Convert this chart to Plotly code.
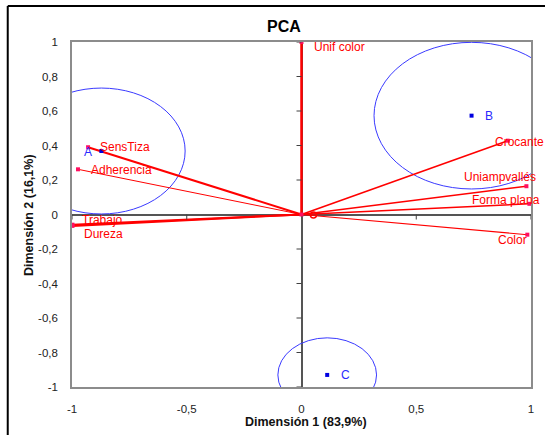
import plotly.graph_objects as go

# ---------------- data ----------------
var_names = ["Unif color", "SensTiza", "Adherencia", "Trabajo", "Dureza",
             "Crocante", "Uniampvallés", "Forma plana", "Color"]
var_x = [0.0, -0.930, -0.974, -0.998, -0.998, 0.899, 0.980, 0.993, 0.984]
var_y = [1.0, 0.390, 0.262, -0.059, -0.066, 0.428, 0.164, 0.062, -0.117]

obs_names = ["A", "B", "C"]
obs_x = [-0.872, 0.741, 0.112]
obs_y = [0.368, 0.573, -0.930]
obs_radius = [0.365, 0.425, 0.215]

x_ticks = [-1, -0.5, 0, 0.5, 1]
x_ticktext = ["-1", "-0,5", "0", "0,5", "1"]
y_ticks = [-1, -0.8, -0.6, -0.4, -0.2, 0, 0.2, 0.4, 0.6, 0.8, 1]
y_ticktext = ["-1", "-0,8", "-0,6", "-0,4", "-0,2", "0", "0,2", "0,4", "0,6", "0,8", "1"]

# ---------------- styles ----------------
RED = "#ff0000"
RED_MK = "#ff1060"
BLUE = "#0000e0"
BLUE_TXT = "#2a2aff"
FONT = "Liberation Sans, Arial, sans-serif"

var_line_widths = [2.5, 2, 1, 2, 2, 1.6, 1.6, 1.6, 1.1]
# label offsets in pixels (dx right, dy down)
var_label_offsets = [(10, 5), (10, 0), (11, 1), (8, -5), (10, 8),
                     (-15, 1), (-64, -9), (-59, -4), (-31, 5)]
obs_label_offsets = [(-13, 1, "center"), (11, 0, "left"), (12, 0, "left")]

fig = go.Figure()

# variable vectors
for name, x, y, w in zip(var_names, var_x, var_y, var_line_widths):
    fig.add_trace(go.Scatter(x=[0, x], y=[0, y], mode="lines",
                             line=dict(color=RED, width=w),
                             hoverinfo="skip", showlegend=False))
fig.add_trace(go.Scatter(x=var_x, y=var_y, mode="markers",
                         marker=dict(symbol="square", size=4, color=RED_MK),
                         text=var_names, hoverinfo="text", showlegend=False))
fig.add_trace(go.Scatter(x=[0], y=[0], mode="markers",
                         marker=dict(symbol="square", size=4, color=RED_MK),
                         hoverinfo="skip", showlegend=False))
fig.add_trace(go.Scatter(x=[0.052], y=[-0.003], mode="markers",
                         marker=dict(symbol="circle-open", size=6,
                                     color=RED, line=dict(width=1.5)),
                         hoverinfo="skip", showlegend=False))

# observations
fig.add_trace(go.Scatter(x=obs_x, y=obs_y, mode="markers",
                         marker=dict(symbol="square", size=4, color=BLUE),
                         text=obs_names, hoverinfo="text", showlegend=False))

shapes = []
# confidence circles
for cx, cy, r in zip(obs_x, obs_y, obs_radius):
    shapes.append(dict(type="circle", xref="x", yref="y",
                       x0=cx - r, x1=cx + r, y0=cy - r, y1=cy + r,
                       line=dict(color="#3a3aff", width=1), layer="between"))

# tick marks on the zero axes
for t in x_ticks:
    if t == 0:
        continue
    shapes.append(dict(type="line", xref="x", yref="y", ysizemode="pixel",
                       yanchor=0, x0=t, x1=t, y0=0, y1=-5,
                       line=dict(color="#404040", width=1)))
for t in y_ticks:
    if t == 0:
        continue
    shapes.append(dict(type="line", xref="x", yref="y", xsizemode="pixel",
                       xanchor=0, x0=-5, x1=0, y0=t, y1=t,
                       line=dict(color="#404040", width=1)))

# chart-area border (Excel style)
shapes.append(dict(type="line", xref="paper", yref="paper",
                   x0=-0.140, x1=-0.140, y0=-0.3, y1=1.104,
                   line=dict(color="black", width=2)))
shapes.append(dict(type="line", xref="paper", yref="paper",
                   x0=-0.140, x1=1.2, y0=1.104, y1=1.104,
                   line=dict(color="black", width=2)))

annotations = []
for name, x, y, (dx, dy) in zip(var_names, var_x, var_y, var_label_offsets):
    annotations.append(dict(x=x, y=y, xref="x", yref="y", text=name,
                            showarrow=False, xanchor="left", yanchor="middle",
                            xshift=dx, yshift=-dy,
                            font=dict(family=FONT, size=12, color=RED)))
for name, x, y, (dx, dy, anc) in zip(obs_names, obs_x, obs_y, obs_label_offsets):
    annotations.append(dict(x=x, y=y, xref="x", yref="y", text=name,
                            showarrow=False, xanchor=anc, yanchor="middle",
                            xshift=dx, yshift=-dy,
                            font=dict(family=FONT, size=12, color=BLUE_TXT)))

annotations.append(dict(x=0.462, y=1.044, xref="paper", yref="paper",
                        text="<b>PCA</b>", showarrow=False,
                        xanchor="center", yanchor="middle",
                        font=dict(family=FONT, size=16, color="black")))
annotations.append(dict(x=0.510, y=-0.1006, xref="paper", yref="paper",
                        text="<b>Dimensión 1 (83,9%)</b>", showarrow=False,
                        xanchor="center", yanchor="middle",
                        font=dict(family=FONT, size=12.5, color="#111")))
annotations.append(dict(x=-0.0936, y=0.4986, xref="paper", yref="paper",
                        text="<b>Dimensión 2 (16,1%)</b>", showarrow=False,
                        textangle=-90, xanchor="center", yanchor="middle",
                        font=dict(family=FONT, size=12.5, color="#111")))

axis_common = dict(showgrid=False, zeroline=True, zerolinecolor="#555555",
                   zerolinewidth=2, showline=True, linecolor="#8c8c8c",
                   linewidth=1.5, mirror=True, ticks="",
                   tickfont=dict(family=FONT, size=11.5, color="#222"))

fig.update_layout(
    width=545, height=435,
    margin=dict(l=72, r=14, t=42, b=48),
    paper_bgcolor="white", plot_bgcolor="white",
    xaxis=dict(range=[-1, 1], tickvals=x_ticks, ticktext=x_ticktext,
               ticklabelstandoff=10, **axis_common),
    yaxis=dict(range=[-1, 1], tickvals=y_ticks, ticktext=y_ticktext,
               ticklabelstandoff=10, **axis_common),
    shapes=shapes, annotations=annotations,
)

fig.write_html("out.html",
               config={"displayModeBar": False},
               post_script="document.body.style.margin='0';"
                           "document.body.style.overflow='hidden';")
